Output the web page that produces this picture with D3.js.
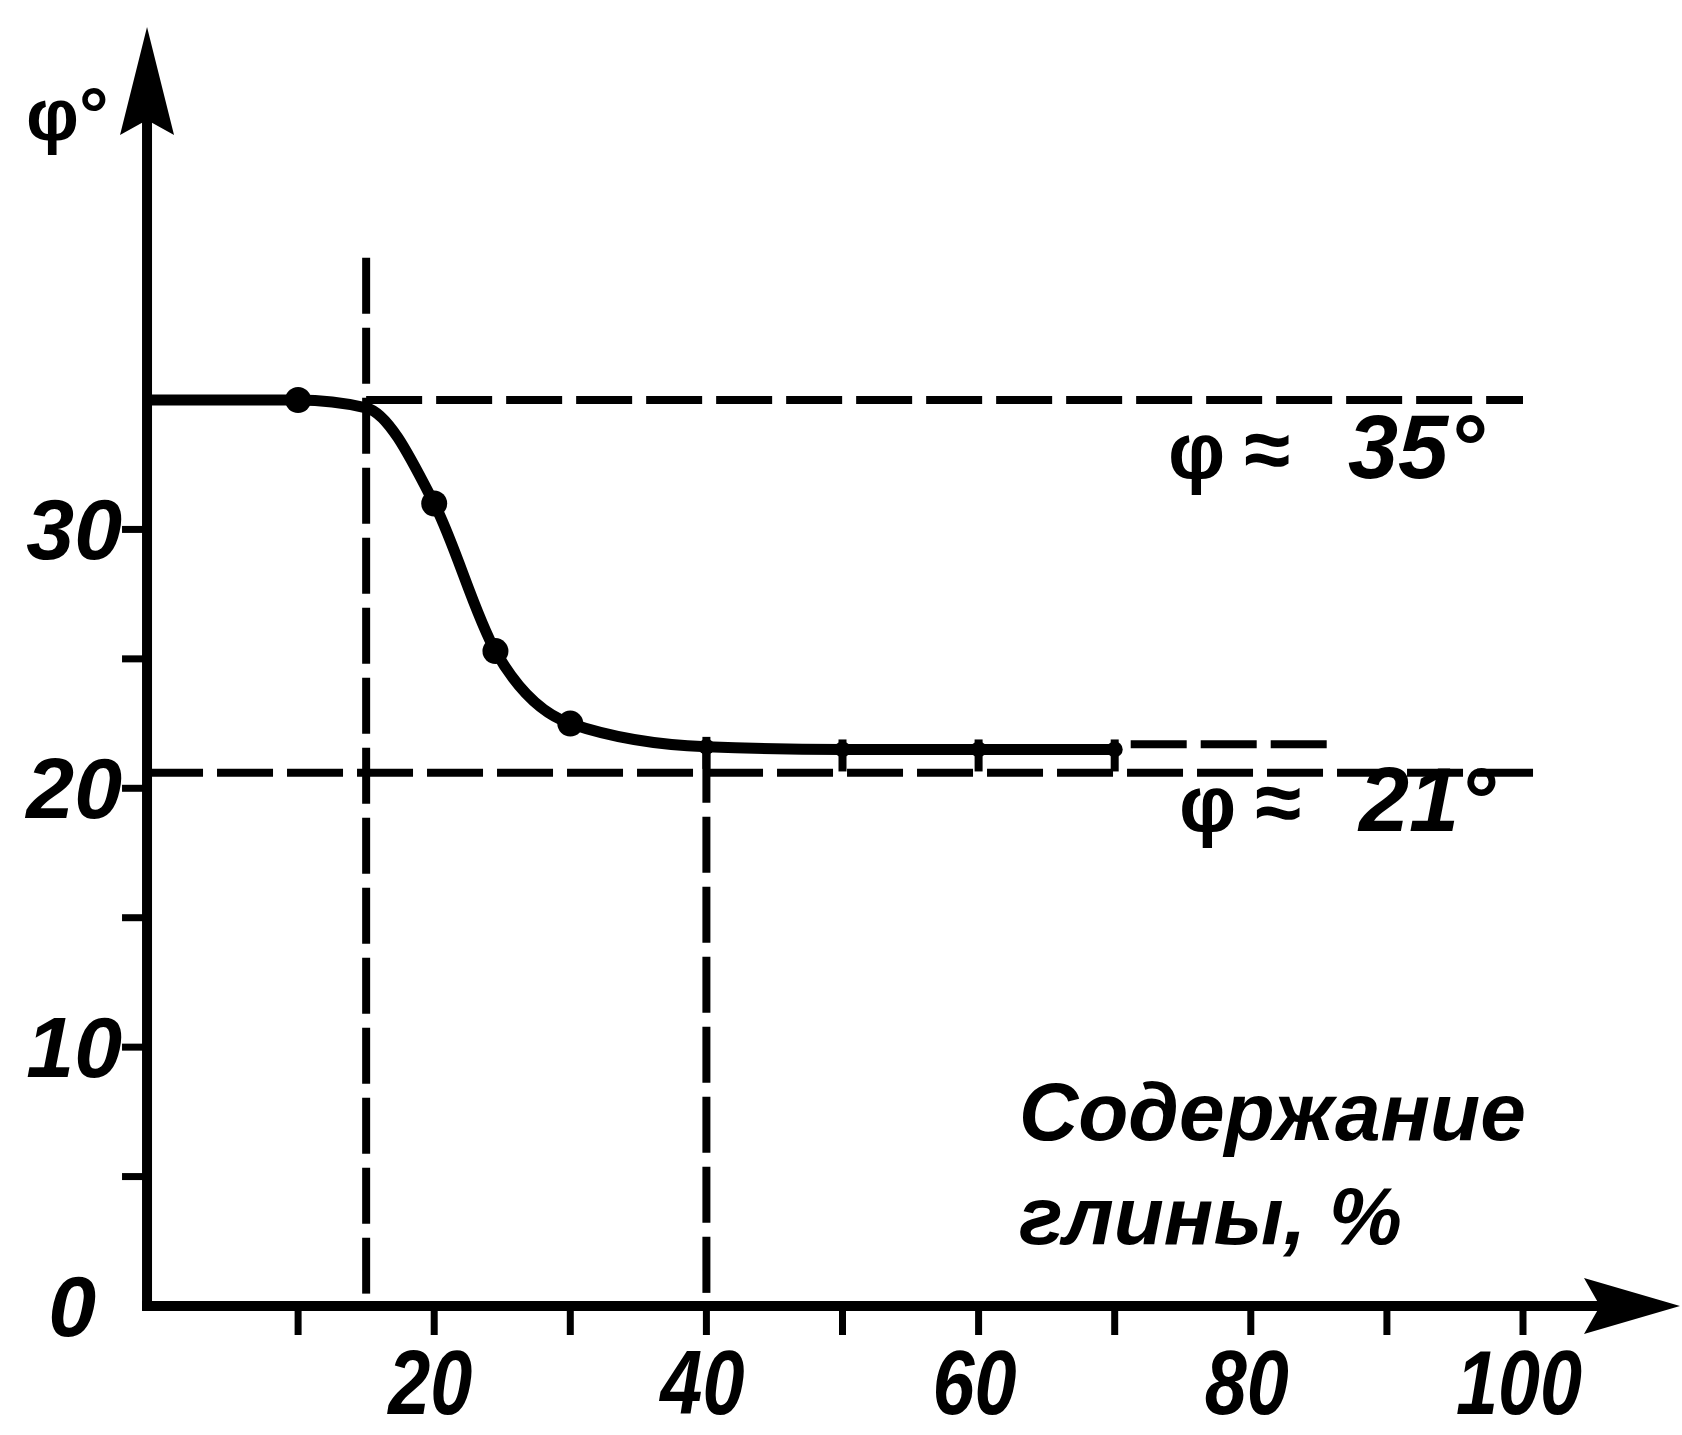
<!DOCTYPE html>
<html><head><meta charset="utf-8">
<script src="https://cdn.jsdelivr.net/npm/d3@7"></script>
<style>
html,body{margin:0;padding:0;background:#fff;}
svg{display:block;}
text{font-family:"Liberation Sans",Arial,sans-serif;fill:#000;}
</style></head>
<body>
<svg id="chart" width="1682" height="1435"></svg>
<script>
// ---- data ----
const clayPoints = [10, 20, 24.5, 30, 40, 50, 60, 70];          // % clay, measured points
const phiPoints  = [35, 31, 25.3, 22.5, 21.6, 21.5, 21.5, 21.5]; // friction angle, degrees
const curveClay  = [-1.1, 10, 15, 20, 24.5, 30, 40, 50, 60, 70];
const curvePhi   = [35, 35, 34.7, 31, 25.3, 22.5, 21.6, 21.5, 21.5, 21.5];
const phiUpper = 35;        // φ ≈ 35°
const phiLower = 20.6;      // φ ≈ 21° reference line
const phiTail = 21.7;       // dashed continuation of the curve
const clayCritical = [15, 40];
const xTicks = [10, 20, 30, 40, 50, 60, 70, 80, 90, 100];
const xTickLabels = [20, 40, 60, 80, 100];
const yTicks = [5, 10, 15, 20, 25, 30];
const yTickLabels = [0, 10, 20, 30];
const labelUpper = ["φ", "≈", "35°"];
const labelLower = ["φ", "≈", "21°"];
const xTitle = ["Содержание", "глины, %"];
const yTitle = "φ°";

const svg = d3.select("#chart");
const x = d3.scaleLinear().domain([0, 100]).range([162, 1523]);
const y = d3.scaleLinear().domain([0, 35]).range([1306, 400]);
const axisX = x(-1.1);

// axes lines
svg.append("line").attr("x1", axisX).attr("y1", y(0) + 4).attr("x2", axisX).attr("y2", 60)
  .attr("stroke", "#000").attr("stroke-width", 10);
svg.append("line").attr("x1", axisX - 5).attr("y1", y(0)).attr("x2", 1640).attr("y2", y(0))
  .attr("stroke", "#000").attr("stroke-width", 10);
// arrowheads
svg.append("path").attr("d", `M${axisX},27 L${axisX+27},135 L${axisX},120 L${axisX-27},135 Z`).attr("fill", "#000");
svg.append("path").attr("d", `M1680,${y(0)} L1584,${y(0)-28} L1600,${y(0)} L1584,${y(0)+28} Z`).attr("fill", "#000");

// ticks
svg.selectAll(".yt").data(yTicks).enter().append("line")
  .attr("x1", axisX - 25).attr("x2", axisX).attr("y1", d => y(d)).attr("y2", d => y(d))
  .attr("stroke", "#000").attr("stroke-width", 7);
svg.selectAll(".xt").data(xTicks).enter().append("line")
  .attr("x1", d => x(d)).attr("x2", d => x(d)).attr("y1", y(0)).attr("y2", y(0) + 29)
  .attr("stroke", "#000").attr("stroke-width", 7);

// tick labels
svg.selectAll(".yl").data(yTickLabels).enter().append("text")
  .attr("x", d => d === 0 ? 96 : 122).attr("y", d => y(d) + 30)
  .attr("text-anchor", "end").attr("font-size", 86).attr("font-weight", "bold").attr("font-style", "italic")
  .text(d => d);
svg.selectAll(".xl").data(xTickLabels).enter().append("text")
  .attr("transform", d => `translate(${x(d) - 4},1414) scale(0.84,1)`)
  .attr("text-anchor", "middle").attr("font-size", 90).attr("font-weight", "bold").attr("font-style", "italic")
  .text(d => d);

// dashed reference lines
const dash = "56,14";
function dline(x1, y1, x2, y2) {
  svg.append("line").attr("x1", x1).attr("y1", y1).attr("x2", x2).attr("y2", y2)
    .attr("stroke", "#000").attr("stroke-width", 8).attr("stroke-dasharray", dash);
}
dline(x(clayCritical[0]), y(phiUpper), x(100), y(phiUpper));
dline(axisX, y(phiLower), x(101.6), y(phiLower));
dline(x(70) + 16, y(phiTail), x(86.2), y(phiTail));
dline(x(clayCritical[0]), y(40.5), x(clayCritical[0]), y(0));
dline(x(clayCritical[1]), y(curvePhi[6]), x(clayCritical[1]), y(0));

// curve
const line = d3.line().x(d => x(d[0])).y(d => y(d[1])).curve(d3.curveMonotoneX);
svg.append("path").datum(d3.zip(curveClay, curvePhi)).attr("d", line)
  .attr("fill", "none").attr("stroke", "#000").attr("stroke-width", 11);

// markers
const pts = d3.zip(clayPoints, phiPoints);
svg.selectAll(".pt").data(pts).enter().append("circle")
  .attr("cx", d => x(d[0])).attr("cy", d => y(d[1])).attr("r", d => d[0] < 40 ? 13 : 8).attr("fill", "#000");
svg.selectAll(".pb").data(pts.filter(d => d[0] >= 40)).enter().append("line")
  .attr("x1", d => x(d[0])).attr("x2", d => x(d[0])).attr("y1", d => y(d[1]) - 10).attr("y2", d => y(d[1]) + 22)
  .attr("stroke", "#000").attr("stroke-width", 8);

// labels for the reference lines
function phiLabel(parts, xx, yy) {
  const g = svg.append("g").attr("transform", `translate(${xx},${yy})`);
  g.append("text").attr("x", 0).attr("font-size", 80).attr("font-weight", "bold").text(parts[0]);
  g.append("text").attr("x", 76).attr("font-size", 84).attr("font-weight", "bold").text(parts[1]);
  g.append("text").attr("x", 180).attr("font-size", 90).attr("font-weight", "bold").attr("font-style", "italic").text(parts[2]);
}
phiLabel(labelUpper, 1168, 478);
phiLabel(labelLower, 1179, 831);

// axis titles
svg.append("text").attr("x", 26).attr("y", 140).attr("font-size", 74).attr("font-weight", "bold").text(yTitle);
svg.selectAll(".xtitle").data(xTitle).enter().append("text")
  .attr("x", 1019).attr("y", (d, i) => 1140 + i * 104)
  .attr("font-size", 82).attr("font-weight", "bold").attr("font-style", "italic")
  .text(d => d);
</script>
</body></html>
